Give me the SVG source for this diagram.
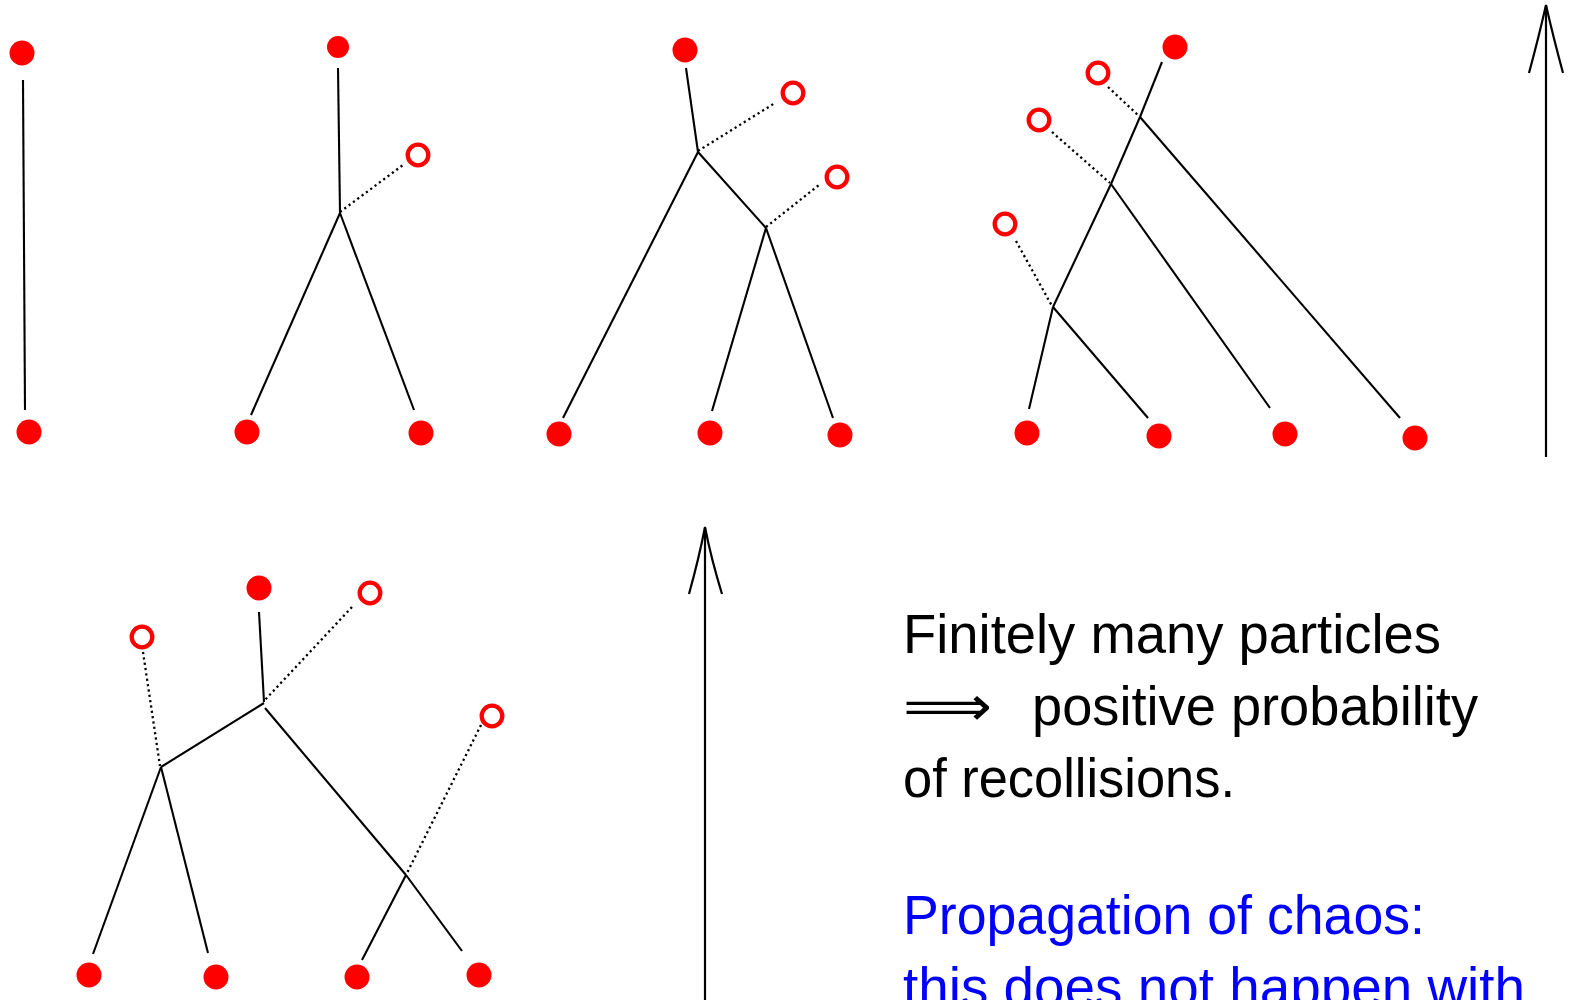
<svg xmlns="http://www.w3.org/2000/svg" width="1570" height="1000" viewBox="0 0 1570 1000">
<style>
.dot{fill:#ff0000}
.open{fill:none;stroke:#ff0000;stroke-width:4.3}
.edge{stroke:#000;stroke-width:2.1;fill:none}
.dash{stroke:#000;stroke-width:2.3;stroke-dasharray:2.2 3.2;fill:none}
.arrow{stroke:#000;stroke-width:2.2;fill:none}
.txt{font-family:"Liberation Sans",Arial,sans-serif;font-size:55px;fill:#000}
.blue{fill:#0000ff}
</style>
<rect width="1570" height="1000" fill="#fff"/>
<g id="connectors">
  <!-- tree 1 -->
  <line class="edge" x1="23" y1="80" x2="25" y2="410"/>
  <!-- tree 2 -->
  <line class="edge" x1="338" y1="68" x2="340" y2="213"/>
  <line class="dash" x1="340" y1="212" x2="403" y2="165"/>
  <line class="edge" x1="340" y1="213" x2="251" y2="415"/>
  <line class="edge" x1="340" y1="213" x2="414" y2="410"/>
  <!-- tree 3 -->
  <line class="edge" x1="686" y1="68" x2="698" y2="152"/>
  <line class="dash" x1="698" y1="151" x2="775" y2="103"/>
  <line class="edge" x1="698" y1="152" x2="563" y2="418"/>
  <line class="edge" x1="698" y1="152" x2="766" y2="228"/>
  <line class="dash" x1="766" y1="227" x2="819" y2="185"/>
  <line class="edge" x1="766" y1="228" x2="712" y2="411"/>
  <line class="edge" x1="766" y1="228" x2="833" y2="418"/>
  <!-- tree 4 -->
  <line class="edge" x1="1162" y1="62" x2="1140" y2="117"/>
  <line class="dash" x1="1108" y1="87" x2="1139" y2="116"/>
  <line class="edge" x1="1140" y1="117" x2="1111" y2="184"/>
  <line class="dash" x1="1052" y1="132" x2="1110" y2="183"/>
  <line class="edge" x1="1111" y1="184" x2="1053" y2="307"/>
  <line class="dash" x1="1016" y1="241" x2="1052" y2="306"/>
  <line class="edge" x1="1053" y1="307" x2="1029" y2="409"/>
  <line class="edge" x1="1053" y1="307" x2="1148" y2="418"/>
  <line class="edge" x1="1111" y1="184" x2="1270" y2="408"/>
  <line class="edge" x1="1140" y1="117" x2="1400" y2="418"/>
  <!-- tree 5 -->
  <line class="edge" x1="259" y1="612" x2="264" y2="702"/>
  <line class="dash" x1="352" y1="607" x2="264" y2="701"/>
  <line class="edge" x1="264" y1="703" x2="161" y2="767"/>
  <line class="dash" x1="143" y1="652" x2="160" y2="766"/>
  <line class="edge" x1="265" y1="708" x2="406" y2="875"/>
  <line class="dash" x1="481" y1="725" x2="407" y2="873"/>
  <line class="edge" x1="161" y1="767" x2="93" y2="954"/>
  <line class="edge" x1="161" y1="767" x2="208" y2="953"/>
  <line class="edge" x1="406" y1="875" x2="362" y2="960"/>
  <line class="edge" x1="406" y1="875" x2="462" y2="951"/>
  <!-- time arrows -->
  <line class="arrow" x1="1546" y1="457" x2="1546" y2="6"/>
  <path class="arrow" d="M1529,73 Q1539,36 1546,5 Q1553,36 1563,73"/>
  <line class="arrow" x1="705" y1="1000" x2="705" y2="528"/>
  <path class="arrow" d="M689,594 Q699,558 705,527 Q711,558 722,594"/>
</g>
<g id="tree1">
  <circle id="t1a" class="dot" cx="22" cy="53" r="12.5"/>
  <circle id="t1b" class="dot" cx="29" cy="432" r="12.5"/>
</g>
<g id="tree2">
  <circle id="t2top" class="dot" cx="338" cy="47" r="11"/>
  <circle id="t2o" class="open" cx="418" cy="155" r="10.3"/>
  <circle id="t2b1" class="dot" cx="247" cy="432" r="12.5"/>
  <circle id="t2b2" class="dot" cx="421" cy="433" r="12.5"/>
</g>
<g id="tree3">
  <circle id="t3top" class="dot" cx="685" cy="50" r="12.5"/>
  <circle id="t3o1" class="open" cx="793" cy="93" r="10.3"/>
  <circle id="t3o2" class="open" cx="837" cy="177" r="10.3"/>
  <circle id="t3b1" class="dot" cx="559" cy="434" r="12.5"/>
  <circle id="t3b2" class="dot" cx="710" cy="433" r="12.5"/>
  <circle id="t3b3" class="dot" cx="840" cy="435" r="12.5"/>
</g>
<g id="tree4">
  <circle id="t4top" class="dot" cx="1175" cy="47" r="12.5"/>
  <circle id="t4o1" class="open" cx="1098" cy="73" r="10.3"/>
  <circle id="t4o2" class="open" cx="1039" cy="120" r="10.3"/>
  <circle id="t4o3" class="open" cx="1005" cy="224" r="10.3"/>
  <circle id="t4b1" class="dot" cx="1027" cy="433" r="12.5"/>
  <circle id="t4b2" class="dot" cx="1159" cy="436" r="12.5"/>
  <circle id="t4b3" class="dot" cx="1285" cy="434" r="12.5"/>
  <circle id="t4b4" class="dot" cx="1415" cy="438" r="12.5"/>
</g>
<g id="tree5">
  <circle id="t5top" class="dot" cx="259" cy="588" r="12.5"/>
  <circle id="t5o1" class="open" cx="142" cy="637" r="10.3"/>
  <circle id="t5o2" class="open" cx="370" cy="593" r="10.3"/>
  <circle id="t5o3" class="open" cx="492" cy="716" r="10.3"/>
  <circle id="t5b1" class="dot" cx="89" cy="975" r="12.5"/>
  <circle id="t5b2" class="dot" cx="216" cy="977" r="12.5"/>
  <circle id="t5b3" class="dot" cx="357" cy="977" r="12.5"/>
  <circle id="t5b4" class="dot" cx="479" cy="975" r="12.5"/>
</g>
<g id="caption">
  <text class="txt" x="903" y="653" textLength="538" lengthAdjust="spacingAndGlyphs">Finitely many particles</text>
  <text class="txt" x="903" y="725" textLength="89" lengthAdjust="spacingAndGlyphs" style="font-family:'DejaVu Sans',sans-serif">⟹</text>
  <text class="txt" x="1032" y="725" textLength="446" lengthAdjust="spacingAndGlyphs">positive probability</text>
  <text class="txt" x="903" y="797" textLength="332" lengthAdjust="spacingAndGlyphs">of recollisions.</text>
  <text class="txt blue" x="903" y="934" textLength="522" lengthAdjust="spacingAndGlyphs">Propagation of chaos:</text>
  <text class="txt blue" x="903" y="1006" textLength="622" lengthAdjust="spacingAndGlyphs">this does not happen with</text>
</g>
</svg>
